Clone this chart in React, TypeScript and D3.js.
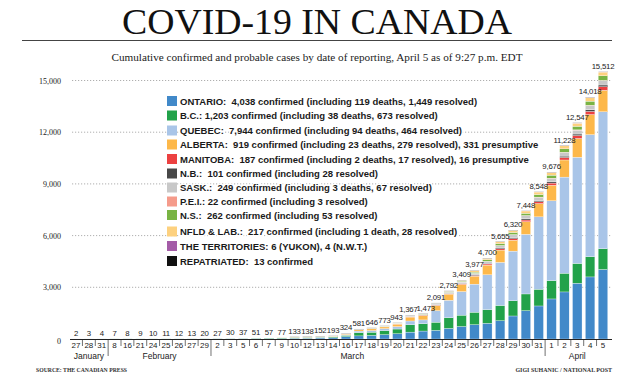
import React from "react";
import * as d3 from "d3";

const dates = ["27","28","31","8","16","21","24","25","26","27","29","2","3","5","6","7","9","10","12","13","14","16","17","18","19","20","21","22","23","24","25","26","27","28","29","30","31","1","2","3","4","5"];
const monthOf = ["January","January","January","February","February","February","February","February","February","February","February","March","March","March","March","March","March","March","March","March","March","March","March","March","March","March","March","March","March","March","March","March","March","March","March","March","March","April","April","April","April","April"];
const totals = [2,3,4,7,8,9,10,11,12,13,20,27,30,37,51,57,77,133,138,152,193,324,581,646,773,943,1367,1473,2091,2792,3409,3977,4700,5655,6320,7448,8548,9676,11228,12547,14018,15512];

const ontario = [2,2,3,3,3,3,4,4,5,6,11,18,20,22,28,28,34,47,50,59,79,139,180,210,252,308,400,462,503,617,725,830,912,1063,1336,1644,1917,2324,2731,3236,3602,4038];
const bc = [0,1,1,4,5,6,6,7,7,7,8,8,9,13,21,27,32,46,46,46,53,73,186,186,231,271,424,424,472,617,659,725,792,884,884,970,970,1066,1086,1150,1174,1203];
const quebec = [0,0,0,0,0,0,0,0,0,0,1,1,1,2,2,2,4,8,9,13,17,39,95,94,121,139,222,221,671,1013,1367,1629,2021,2498,2880,3460,4200,4631,5578,6160,7080,7944];
const alberta = [0,0,0,0,0,0,0,0,0,0,0,0,0,0,0,0,7,19,19,19,23,39,74,97,97,144,226,259,301,358,419,464,564,715,636,735,771,900,993,1090,1167,1250];
const manitoba = [0,0,0,0,0,0,0,0,0,0,0,0,0,0,0,0,0,0,0,1,4,7,8,15,15,17,17,20,20,21,35,39,64,72,84,96,103,127,144,167,182,203];
const nb = [0,0,0,0,0,0,0,0,0,0,0,0,0,0,0,0,0,0,1,1,1,6,8,8,11,11,17,17,17,17,26,33,45,51,66,66,68,70,81,91,98,101];
const sask = [0,0,0,0,0,0,0,0,0,0,0,0,0,0,0,0,0,0,0,0,2,7,8,8,16,20,26,26,52,66,72,86,104,134,156,176,184,193,206,220,240,249];
const pei = [0,0,0,0,0,0,0,0,0,0,0,0,0,0,0,0,0,0,0,0,1,1,1,2,2,2,3,3,3,3,5,5,9,11,18,21,21,21,21,22,22,22];
const ns = [0,0,0,0,0,0,0,0,0,0,0,0,0,0,0,0,0,0,0,0,0,0,7,12,12,14,15,21,28,41,51,68,90,110,122,127,147,173,193,207,236,262];
const nfld = [0,0,0,0,0,0,0,0,0,0,0,0,0,0,0,0,0,0,0,0,0,0,1,1,3,3,3,6,9,24,35,82,82,100,120,135,148,152,175,183,195,217];
const territories = [0,0,0,0,0,0,0,0,0,0,0,0,0,0,0,0,0,0,0,0,0,0,0,0,0,1,1,1,2,2,2,3,4,4,5,5,6,6,7,8,9,10];
const repatriated = [0,0,0,0,0,0,0,0,0,0,0,0,0,0,0,0,0,13,13,13,13,13,13,13,13,13,13,13,13,13,13,13,13,13,13,13,13,13,13,13,13,13];

const seriesKeys = ["on","bc","qc","ab","mb","nb","sk","pe","ns","nl","tr","rp"];
const seriesValues = [ontario,bc,quebec,alberta,manitoba,nb,sask,pei,ns,nfld,territories,repatriated];
const seriesColors = ["#4189c9","#22a24a","#a9c5e8","#fdb84a","#ec4141","#484848","#c8c8c8","#f59b8b","#79b444","#fdd17f","#a45ca7","#111111"];
const legendLabels = [
  "ONTARIO:  4,038 confirmed (including 119 deaths, 1,449 resolved)",
  "B.C.: 1,203 confirmed (including 38 deaths, 673 resolved)",
  "QUEBEC:  7,944 confirmed (including 94 deaths, 464 resolved)",
  "ALBERTA:  919 confirmed (including 23 deaths, 279 resolved), 331 presumptive",
  "MANITOBA:  187 confirmed (including 2 deaths, 17 resolved), 16 presumptive",
  "N.B.:  101 confirmed (including 28 resolved)",
  "SASK.:  249 confirmed (including 3 deaths, 67 resolved)",
  "P.E.I.: 22 confirmed (including 3 resolved)",
  "N.S.:  262 confirmed (including 53 resolved)",
  "NFLD & LAB.:  217 confirmed (including 1 death, 28 resolved)",
  "THE TERRITORIES: 6 (YUKON), 4 (N.W.T.)",
  "REPATRIATED:  13 confirmed",
];
const legendRowY = [101,115.5,130.5,144.5,159,173.5,187.5,201.5,215,231.5,246,261];
const yTicks = [0,3000,6000,9000,12000,15000];
const months = ["January","February","March","April"];

const W = 634, H = 382;
const NARROW = "'Liberation Sans Narrow', 'Liberation Sans', Arial, sans-serif";
const SERIF = "'Liberation Serif', 'Times New Roman', serif";

export default function App() {
  const rows = dates.map((d, i) => {
    const r: any = { i };
    seriesKeys.forEach((k, j) => (r[k] = seriesValues[j][i]));
    return r;
  });
  const stacked = d3.stack().keys(seriesKeys)(rows);
  const x = d3.scaleBand<number>().domain(dates.map((_, i) => i)).range([69.6, 609.4]).paddingInner(0.26).paddingOuter(0.13);
  const y = d3.scaleLinear().domain([0, 15000]).range([339, 80.5]);
  const step = x.step();
  const bw = x.bandwidth();
  const center = (i: number) => (x(i) as number) + bw / 2;
  const boundary = (i: number) => (x(i) as number) - (step - bw) / 2;

  const monthGroups = months.map((m) => {
    const idx = monthOf.map((mm, i) => (mm === m ? i : -1)).filter((i) => i >= 0);
    return { m, first: idx[0], last: idx[idx.length - 1] };
  });
  const marchLabelIdx = 22;

  // value labels with simple overlap resolution
  const fmt = d3.format(",");
  const labelFont = 7.8;
  const estW = (s: string) => s.split("").reduce((a, c) => a + (c === "," ? 1.9 : 3.6), 0);
  const lbl = totals.map((t, i) => ({ s: fmt(t), cx: center(i), y: y(t) - 3 }));
  for (let i = 0; i < lbl.length - 1; i++) {
    const a = lbl[i], b = lbl[i + 1];
    if (Math.abs(a.y - b.y) < labelFont + 1) {
      const ov = (estW(a.s) + estW(b.s)) / 2 + 1 - (b.cx - a.cx);
      if (ov > 0) { a.cx -= ov / 2; b.cx += ov / 2; }
    }
  }

  return (
    <svg width={W} height={H} style={{ display: "block", position: "absolute", left: 0, top: 0, background: "#fff" }}>
      <rect width={W} height={H} fill="#fff" />
      <text x={317} y={34} textAnchor="middle" fontFamily={SERIF} fontSize={36} fill="#111" textLength={390} lengthAdjust="spacingAndGlyphs">COVID-19 IN CANADA</text>
      <line x1={22} x2={612} y1={40.5} y2={40.5} stroke="#444" strokeWidth={1} />
      <text x={317} y={61} textAnchor="middle" fontFamily={SERIF} fontSize={11} fill="#222" textLength={411} lengthAdjust="spacingAndGlyphs">Cumulative confirmed and probable cases by date of reporting, April 5 as of 9:27 p.m. EDT</text>

      {yTicks.filter((t) => t > 0).map((t) => (
        <line key={t} x1={72} x2={612} y1={y(t)} y2={y(t)} stroke="#9a9a9a" strokeWidth={0.8} strokeDasharray="1.2,1.8" />
      ))}
      {yTicks.map((t) => (
        <text key={"l" + t} x={61} y={y(t) + (t === 0 ? 5 : 3)} textAnchor="end" fontFamily={SERIF} fontSize={8} fill="#222">{fmt(t)}</text>
      ))}

      {stacked.map((s, j) => (
        <g key={s.key} fill={seriesColors[j]}>
          {s.map((d, i) => {
            const h = y(d[0]) - y(d[1]);
            if (h <= 0) return null;
            return <rect key={i} x={x(i)} y={y(d[1])} width={bw} height={h} stroke="#fff" strokeWidth={0.3} />;
          })}
        </g>
      ))}

      {lbl.map((l, i) => (
        <text key={"t" + i} x={l.cx} y={l.y} textAnchor="middle" fontFamily={NARROW} fontSize={labelFont} fill="#222" letterSpacing={-0.2}>{l.s}</text>
      ))}

      <line x1={70} x2={612} y1={339.5} y2={339.5} stroke="#222" strokeWidth={1} />
      {dates.map((_, i) => {
        if (i === 0) return null;
        const isMonth = monthOf[i] !== monthOf[i - 1];
        return (
          <line key={"k" + i} x1={boundary(i)} x2={boundary(i)} y1={340} y2={isMonth ? 356 : 346} stroke={isMonth ? "#888" : "#333"} strokeWidth={isMonth ? 1.2 : 0.7} />
        );
      })}
      {dates.map((d, i) => (
        <text key={"d" + i} x={center(i)} y={348} textAnchor="middle" fontFamily={NARROW} fontSize={8} fill="#222">{d}</text>
      ))}
      {monthGroups.map((g) => {
        const cx = g.m === "March" ? boundary(marchLabelIdx) : (center(g.first) + center(g.last)) / 2;
        return (
          <text key={g.m} x={cx} y={358.5} textAnchor="middle" fontFamily={NARROW} fontSize={8.5} fill="#222">{g.m}</text>
        );
      })}

      {legendLabels.map((l, j) => (
        <g key={"lg" + j}>
          <rect x={167} y={legendRowY[j] - 5} width={10} height={10} fill={seriesColors[j]} />
          <text x={180} y={legendRowY[j] + 3.5} fontFamily={NARROW} fontWeight="bold" fontSize={9.5} fill="#1a1a1a" style={{ whiteSpace: "pre" }} stroke="#fff" strokeWidth={3} paintOrder="stroke">{l}</text>
        </g>
      ))}

      <text x={36} y={372} fontFamily={SERIF} fontWeight="bold" fontSize={6} fill="#333" textLength={91} lengthAdjust="spacingAndGlyphs">SOURCE: THE CANADIAN PRESS</text>
      <text x={612} y={372} textAnchor="end" fontFamily={SERIF} fontWeight="bold" fontSize={6} fill="#333">GIGI SUHANIC / NATIONAL POST</text>
    </svg>
  );
}
